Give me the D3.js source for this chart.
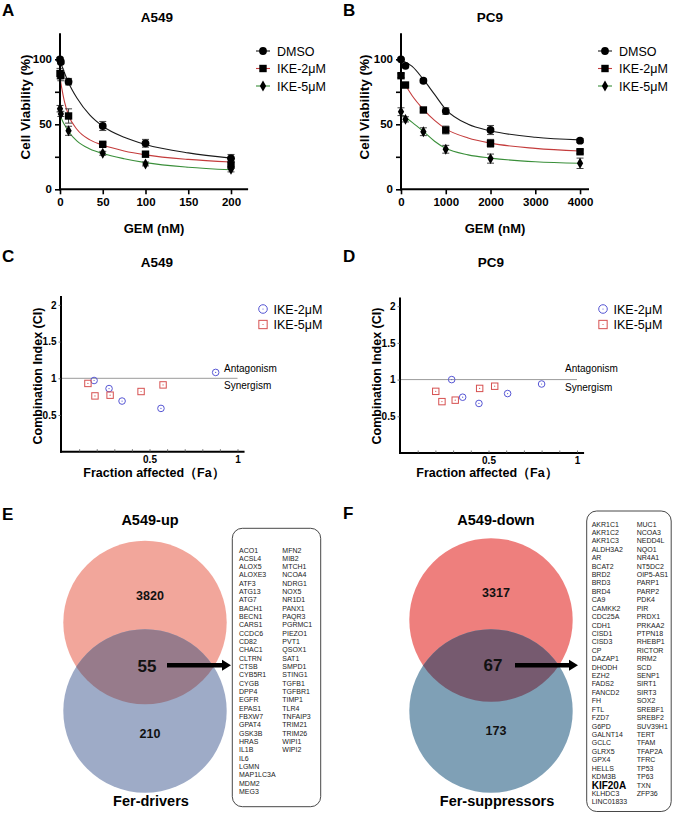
<!DOCTYPE html>
<html><head><meta charset="utf-8">
<script src="https://cdn.jsdelivr.net/npm/d3@7"></script>
<style>body{margin:0;background:#fff}svg{display:block}</style>
</head><body><svg id="c" width="674" height="815"></svg>
<script>
// ---------------- DATA ----------------
const seriesNames = ["DMSO", "IKE-2μM", "IKE-5μM"];

// Panel A (A549 viability)
const gemA = [0, 1, 10, 50, 100, 200];
const a549Dmso = [100, 98, 82.8, 48.7, 35.4, 23.8];
const a549DmsoErr = [1.5, 1.5, 2.5, 3.5, 3, 3];
const a549Ike2 = [89, 87.5, 56.4, 34.6, 27, 18.7];
const a549Ike2Err = [4, 4, 5.5, 1.5, 1.5, 2.5];
const a549Ike5 = [62, 58, 45, 27.7, 19.5, 15.4];
const a549Ike5Err = [2.5, 2, 3.5, 1.5, 1.5, 2];
// fitted curves
const fitAx = [0, 2, 5, 10, 20, 35, 50, 75, 100, 150, 200];
const fitADmso = [97, 95, 90, 82, 70, 57, 48.5, 40, 34.5, 28, 24];
const fitAIke2 = [86, 78, 68, 57, 46, 38, 34, 29.5, 26.5, 23, 21];
const fitAIke5 = [58, 54, 50, 44.5, 37, 31, 27.5, 23.5, 20.5, 17, 15];
const ticksA = [0, 50, 100, 150, 200];

// Panel B (PC9 viability)
const gemB = [0, 100, 500, 1000, 2000, 4000];
const pc9Dmso = [100, 95, 83.5, 60.2, 45.6, 37.4];
const pc9DmsoErr = [1, 1.5, 1.5, 2.5, 3.5, 1.5];
const pc9Ike2 = [87.4, 80.2, 61, 45.6, 35.4, 28.9];
const pc9Ike2Err = [1.5, 2, 1.5, 3, 3, 1.5];
const pc9Ike5 = [59.7, 53.8, 44.3, 30.8, 23.6, 20];
const pc9Ike5Err = [3, 2, 3, 3, 3.5, 4];
const fitBx = [0, 250, 500, 750, 1000, 1500, 2000, 3000, 4000];
const fitBx2 = [100, 250, 500, 750, 1000, 1500, 2000, 3000, 4000];
const fitBDmso = [99.5, 94.5, 84.5, 73, 61.5, 50, 45, 40, 38];
const fitBIke2 = [80, 72, 61.5, 53, 46.5, 39.5, 35.5, 31.5, 29.5];
const fitBIke5 = [57.5, 51.5, 44.5, 37, 31.5, 26.5, 24, 21.2, 20];
const ticksB = [0, 1000, 2000, 3000, 4000];
const yTicksViab = [0, 25, 50, 75, 100];

// Panel C (A549 combination index)
const ciNames = ["IKE-2μM", "IKE-5μM"];
const faC2 = [0.185, 0.27, 0.344, 0.565, 0.876];
const ciC2 = [0.97, 0.86, 0.69, 0.59, 1.08];
const faC5 = [0.15, 0.19, 0.276, 0.452, 0.577];
const ciC5 = [0.93, 0.76, 0.77, 0.82, 0.91];
// Panel D (PC9 combination index)
const faD2 = [0.292, 0.354, 0.446, 0.608, 0.8];
const ciD2 = [1.0, 0.76, 0.675, 0.81, 0.94];
const faD5 = [0.202, 0.237, 0.312, 0.45, 0.535];
const ciD5 = [0.84, 0.70, 0.72, 0.88, 0.91];
const ciYTicks = [0.5, 1, 1.5, 2];

// Panel E / F (Venn)
const vennELabels = ["A549-up", "Fer-drivers"];
const vennECounts = [3820, 55, 210];
const vennFLabels = ["A549-down", "Fer-suppressors"];
const vennFCounts = [3317, 67, 173];
const genesE = ["ACO1","ACSL4","ALOX5","ALOXE3","ATF3","ATG13","ATG7","BACH1","BECN1","CARS1","CCDC6","CD82","CHAC1","CLTRN","CTSB","CYB5R1","CYGB","DPP4","EGFR","EPAS1","FBXW7","GPAT4","GSK3B","HRAS","IL1B","IL6","LGMN","MAP1LC3A","MDM2","MEG3",
  "MFN2","MIB2","MTCH1","NCOA4","NDRG1","NOX5","NR1D1","PANX1","PAQR3","PGRMC1","PIEZO1","PVT1","QSOX1","SAT1","SMPD1","STING1","TGFB1","TGFBR1","TIMP1","TLR4","TNFAIP3","TRIM21","TRIM26","WIPI1","WIPI2"];
const genesF = ["AKR1C1","AKR1C2","AKR1C3","ALDH3A2","AR","BCAT2","BRD2","BRD3","BRD4","CA9","CAMKK2","CDC25A","CDH1","CISD1","CISD3","CP","DAZAP1","DHODH","EZH2","FADS2","FANCD2","FH","FTL","FZD7","G6PD","GALNT14","GCLC","GLRX5","GPX4","HELLS","KDM3B","KIF20A","KLHDC3","LINC01833",
  "MUC1","NCOA3","NEDD4L","NQO1","NR4A1","NT5DC2","OIP5-AS1","PARP1","PARP2","PDK4","PIR","PRDX1","PRKAA2","PTPN18","RHEBP1","RICTOR","RRM2","SCD","SENP1","SIRT1","SIRT3","SOX2","SREBF1","SREBF2","SUV39H1","TERT","TFAM","TFAP2A","TFRC","TP53","TP63","TXN","ZFP36"];
const highlightGene = "KIF20A";

// ---------------- DRAWING ----------------
const FONT = '"Liberation Sans", Arial, Helvetica, sans-serif';
const svg = d3.select("#c").style("font-family", FONT);
svg.append("rect").attr("width", 674).attr("height", 815).attr("fill", "#fff");

function txt(x, y, s, o = {}) {
  return svg.append("text").attr("x", x).attr("y", y).text(s)
    .attr("font-size", o.size || 12).attr("font-weight", o.bold ? "bold" : "normal")
    .attr("text-anchor", o.anchor || "start").attr("fill", o.fill || "#000")
    .attr("font-family", FONT);
}
function vtxt(x, y, s, o = {}) {
  return svg.append("text").attr("transform", `translate(${x},${y}) rotate(-90)`).text(s)
    .attr("font-size", o.size || 12).attr("font-weight", o.bold ? "bold" : "normal")
    .attr("text-anchor", "middle").attr("fill", "#000").attr("font-family", FONT);
}

// panel letters
[["A", 2, 16], ["B", 343, 16], ["C", 2, 262], ["D", 343, 262], ["E", 2, 520], ["F", 343, 519]]
  .forEach(([l, x, y]) => txt(x, y, l, { size: 17, bold: true }));

const lineColors = ["#1a1a1a", "#c43c3c", "#3a8f3a"];
function marker(g, type, cx, cy, scale = 1) {
  if (type === 0) g.append("circle").attr("cx", cx).attr("cy", cy).attr("r", 3.9 * scale).attr("fill", "#000");
  else if (type === 1) g.append("rect").attr("x", cx - 3.7 * scale).attr("y", cy - 3.7 * scale).attr("width", 7.4 * scale).attr("height", 7.4 * scale).attr("fill", "#000");
  else g.append("path").attr("transform", `translate(${cx},${cy})`).attr("d", d3.symbol(d3.symbolDiamond, 34 * scale * scale)()).attr("fill", "#000");
}

function viability(cfg) {
  const x = d3.scaleLinear().domain(cfg.xDomain).range(cfg.xRange);
  const y = d3.scaleLinear().domain([0, 120]).range([189.3, 33.3]);
  const g = svg.append("g");

  // fitted curves
  const line = d3.line().x(d => x(d[0])).y(d => y(d[1])).curve(d3.curveMonotoneX);
  cfg.fits.forEach((f, i) => {
    g.append("path").attr("d", line(f.x.map((v, j) => [v, f.y[j]])))
      .attr("fill", "none").attr("stroke", lineColors[i]).attr("stroke-width", 1.1);
  });
  // error bars + points
  cfg.series.forEach((s, i) => {
    s.v.forEach((v, j) => {
      const cx = x(cfg.xs[j]);
      const e = s.e[j];
      g.append("line").attr("x1", cx).attr("x2", cx).attr("y1", y(v - e)).attr("y2", y(v + e)).attr("stroke", "#444").attr("stroke-width", 1);
      [v - e, v + e].forEach(w => g.append("line").attr("x1", cx - 3.5).attr("x2", cx + 3.5).attr("y1", y(w)).attr("y2", y(w)).attr("stroke", "#444").attr("stroke-width", 1));
    });
  });
  cfg.series.forEach((s, i) => s.v.forEach((v, j) => marker(g, i, x(cfg.xs[j]), y(v))));

  // axes
  const xa = g.append("g").attr("transform", `translate(0,${y(0)})`)
    .call(d3.axisBottom(x).tickValues(cfg.xTicks).tickSize(5).tickSizeOuter(0).tickPadding(4).tickFormat(d3.format("d")));
  const ya = g.append("g").attr("transform", `translate(${cfg.xRange[0]},0)`)
    .call(d3.axisLeft(y).tickValues(yTicksViab).tickSize(5).tickSizeOuter(0).tickPadding(3).tickFormat(d => d % 50 === 0 ? d : ""));
  [xa, ya].forEach(a => {
    a.select(".domain").attr("stroke", "#000").attr("stroke-width", 2);
    a.selectAll(".tick line").attr("stroke", "#000").attr("stroke-width", 1.6);
    a.selectAll("text").attr("font-size", 11.5).attr("font-weight", "bold").attr("font-family", FONT).attr("fill", "#000");
  });
  ya.select(".domain").attr("d", `M0,${y(120)}V${y(0) + 1}`);
  xa.select(".domain").attr("d", `M${cfg.xRange[0] - 1},0H${cfg.xRange[1]}`);

  txt(cfg.titleX, 21.5, cfg.title, { size: 13.5, bold: true, anchor: "middle" });
  txt(cfg.xLabelX, 233, "GEM (nM)", { size: 13, bold: true, anchor: "middle" });
  vtxt(cfg.yLabelX, 107, "Cell Viability (%)", { size: 13.5, bold: true });

  // legend
  seriesNames.forEach((n, i) => {
    const ly = 51 + i * 17.5;
    g.append("line").attr("x1", cfg.legX - 7).attr("x2", cfg.legX + 7).attr("y1", ly).attr("y2", ly).attr("stroke", lineColors[i]).attr("stroke-width", 1.1);
    marker(g, i, cfg.legX, ly);
    txt(cfg.legX + 14, ly + 4.5, n, { size: 12.5 });
  });
}

viability({
  xDomain: [0, 220], xRange: [60, 248.1], xTicks: ticksA, xs: gemA,
  series: [{ v: a549Dmso, e: a549DmsoErr }, { v: a549Ike2, e: a549Ike2Err }, { v: a549Ike5, e: a549Ike5Err }],
  fits: [{ x: fitAx, y: fitADmso }, { x: fitAx, y: fitAIke2 }, { x: fitAx, y: fitAIke5 }],
  title: "A549", titleX: 157, xLabelX: 154, yLabelX: 30, legX: 263
});
viability({
  xDomain: [0, 4200], xRange: [401, 589], xTicks: ticksB, xs: gemB,
  series: [{ v: pc9Dmso, e: pc9DmsoErr }, { v: pc9Ike2, e: pc9Ike2Err }, { v: pc9Ike5, e: pc9Ike5Err }],
  fits: [{ x: fitBx, y: fitBDmso }, { x: fitBx2, y: fitBIke2 }, { x: fitBx, y: fitBIke5 }],
  title: "PC9", titleX: 490, xLabelX: 495, yLabelX: 369, legX: 605
});

// -------- CI panels --------
const ciBlue = "#5656d4", ciRed = "#d65050";
function ciMarker(g, type, cx, cy, s = 1) {
  if (type === 0) {
    g.append("circle").attr("cx", cx).attr("cy", cy).attr("r", 3.3 * s).attr("fill", "none").attr("stroke", ciBlue).attr("stroke-width", 1);
    g.append("circle").attr("cx", cx).attr("cy", cy).attr("r", 0.6).attr("fill", ciBlue);
  } else {
    g.append("rect").attr("x", cx - 3.2 * s).attr("y", cy - 3.2 * s).attr("width", 6.4 * s).attr("height", 6.4 * s).attr("fill", "none").attr("stroke", ciRed).attr("stroke-width", 1);
    g.append("circle").attr("cx", cx).attr("cy", cy).attr("r", 0.6).attr("fill", ciRed);
  }
}
function ciPanel(cfg) {
  const x = d3.scaleLinear().domain([cfg.xMin, 1.04]).range([cfg.ax, cfg.x0 + 1.04 * cfg.k]);
  const y = d3.scaleLinear().domain([0, 2.12]).range([cfg.y0, cfg.y0 - 2.12 * 73.4]);
  const g = svg.append("g");
  // reference line
  g.append("line").attr("x1", x(0)).attr("x2", x(1)).attr("y1", y(1)).attr("y2", y(1)).attr("stroke", "#9a9a9a").attr("stroke-width", 1);
  txt(cfg.textX, cfg.antY, "Antagonism", { size: 10 });
  txt(cfg.textX, cfg.synY, "Synergism", { size: 10 });

  const xa = g.append("g").attr("transform", `translate(0,${y(0)})`)
    .call(d3.axisBottom(x).tickValues(d3.range(1, 11).map(d => d / 10)).tickSize(-2.5).tickSizeOuter(0).tickPadding(5)
      .tickFormat(d => (Math.abs(d - 0.5) < 1e-9 ? "0.5" : Math.abs(d - 1) < 1e-9 ? "1" : "")));
  const ya = g.append("g").attr("transform", `translate(${cfg.ax},0)`)
    .call(d3.axisLeft(y).tickValues(ciYTicks).tickSize(2.5).tickSizeOuter(0).tickPadding(2).tickFormat(d3.format("~g")));
  [xa, ya].forEach(a => {
    a.select(".domain").attr("stroke", "#000").attr("stroke-width", 2);
    a.selectAll(".tick line").attr("stroke", "#555").attr("stroke-width", 0.8);
    a.selectAll("text").attr("font-size", 10).attr("font-weight", "bold").attr("font-family", FONT).attr("fill", "#000");
  });
  ya.select(".domain").attr("d", `M0,${y(2.12)}V${y(0) + 1}`);
  xa.select(".domain").attr("d", `M${cfg.ax - 1},0H${x(1.04)}`);
  xa.selectAll("text").attr("dy", "0.6em");

  cfg.sets.forEach((s, i) => s.fa.forEach((f, j) => ciMarker(g, i, x(f), y(s.ci[j]))));

  txt(cfg.titleX, 266.5, cfg.title, { size: 13.5, bold: true, anchor: "middle" });
  txt(cfg.xLabelX, 477, "Fraction affected（Fa）", { size: 12.5, bold: true, anchor: "middle" });
  vtxt(cfg.yLabelX, 376, "Combination Index (CI)", { size: 12.5, bold: true });
  ciNames.forEach((n, i) => {
    const ly = 309 + i * 15.5;
    ciMarker(g, i, cfg.legX, ly, 1.3);
    txt(cfg.legX + 10.5, ly + 4.5, n, { size: 12.5 });
  });
}
ciPanel({ ax: 61, x0: 61.5, k: 176, xMin: -0.003, y0: 451.7,
  sets: [{ fa: faC2, ci: ciC2 }, { fa: faC5, ci: ciC5 }],
  textX: 224, antY: 372, synY: 389, title: "A549", titleX: 157, xLabelX: 154, yLabelX: 42, legX: 263 });
ciPanel({ ax: 400, x0: 400, k: 177, xMin: 0, y0: 453,
  sets: [{ fa: faD2, ci: ciD2 }, { fa: faD5, ci: ciD5 }],
  textX: 565, antY: 372, synY: 391, title: "PC9", titleX: 491, xLabelX: 487, yLabelX: 381, legX: 603 });

// -------- Venn panels --------
function venn(cfg) {
  const g = svg.append("g");
  const r = 81.7;
  const id = "clip" + cfg.id;
  svg.append("defs").append("clipPath").attr("id", id)
    .append("circle").attr("cx", cfg.cx).attr("cy", cfg.cyTop).attr("r", r);
  g.append("circle").attr("cx", cfg.cx).attr("cy", cfg.cyTop).attr("r", r).attr("fill", cfg.cTop);
  g.append("circle").attr("cx", cfg.cx).attr("cy", cfg.cyBot).attr("r", r).attr("fill", cfg.cBot);
  g.append("circle").attr("cx", cfg.cx).attr("cy", cfg.cyBot).attr("r", r).attr("fill", cfg.cMid).attr("clip-path", `url(#${id})`);

  txt(cfg.cx + 5, 525, cfg.labels[0], { size: 14.5, bold: true, anchor: "middle" });
  txt(cfg.cx + 6, 806, cfg.labels[1], { size: 14.5, bold: true, anchor: "middle" });
  txt(cfg.cx + 5, cfg.nY[0], cfg.counts[0], { size: 12.5, bold: true, anchor: "middle", fill: "#111" });
  txt(cfg.cx + 2, cfg.nY[1], cfg.counts[1], { size: 17, bold: true, anchor: "middle", fill: "#111" });
  txt(cfg.cx + 5, cfg.nY[2], cfg.counts[2], { size: 12.5, bold: true, anchor: "middle", fill: "#111" });

  // arrow
  const ay = 665.3;
  g.append("line").attr("x1", cfg.a0).attr("x2", cfg.a1 - 7).attr("y1", ay).attr("y2", ay).attr("stroke", "#000").attr("stroke-width", 4.5);
  g.append("path").attr("d", `M${cfg.a1 - 9},${ay - 5.5}L${cfg.a1},${ay}L${cfg.a1 - 9},${ay + 5.5}Z`).attr("fill", "#000");

  // gene box
  const b = cfg.box;
  g.append("rect").attr("x", b.x).attr("y", b.y).attr("width", b.w).attr("height", b.h).attr("rx", 10).attr("ry", 10)
    .attr("fill", "#fff").attr("stroke", "#333").attr("stroke-width", 0.9);
  cfg.genes.forEach((gn, i) => {
    const col = i < cfg.split ? 0 : 1;
    const row = col === 0 ? i : i - cfg.split;
    const yy = b.r0 + row * b.dr + 2.5;
    const hl = gn === highlightGene;
    txt(col === 0 ? b.c1 : b.c2, hl ? yy + 1.2 : yy, gn, { size: hl ? 10 : 7, bold: hl, fill: hl ? "#000" : "#222" });
  });
}
venn({ id: "E", cx: 145, cyTop: 622.5, cyBot: 711, cTop: "#f2a69b", cBot: "#9eabc7", cMid: "#977b8b",
  labels: vennELabels, counts: vennECounts, nY: [600, 672, 738], a0: 167, a1: 231,
  genes: genesE, split: 30, box: { x: 232.3, y: 528.3, w: 88.4, h: 278.4, c1: 239, c2: 282.3, r0: 550, dr: 8.33 } });
venn({ id: "F", cx: 491, cyTop: 620, cyBot: 711, cTop: "#ee7f7d", cBot: "#7fa0b6", cMid: "#765a6f",
  labels: vennFLabels, counts: vennFCounts, nY: [597, 671, 735], a0: 515, a1: 578,
  genes: genesF, split: 34, box: { x: 586.7, y: 511, w: 84.5, h: 300.5, c1: 591.7, c2: 636.7, r0: 524, dr: 8.42 } });
</script></body></html>
